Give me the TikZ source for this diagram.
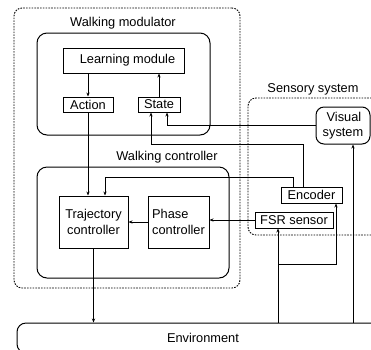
\documentclass[tikz,border=0pt]{standalone}
\usepackage{fontspec}
\setmainfont{Liberation Sans}
\usepackage{tikz}
\usetikzlibrary{arrows.meta}

\begin{document}
\begin{tikzpicture}[x=1pt, y=-1pt,
    font=\fontsize{12.8}{15.5}\selectfont,
    >={Stealth[length=4pt,width=3.2pt]},
    group/.style={draw=black, dash pattern=on 1.6pt off 1.2pt, line width=0.9pt, rounded corners=8pt, inner sep=0pt},
    frame/.style={draw=black, line width=1pt, rounded corners=10pt, inner sep=0pt},
    block/.style={draw=black, line width=1pt, inner sep=0pt, align=center},
    label/.style={inner sep=0pt},
    flow/.style={->, line width=0.7pt}]

	\useasboundingbox (0,0) rectangle (371,349);
	\clip (0,0) rectangle (371,349);

	% groups
	\node[group, minimum width=226pt, minimum height=280pt] (walk) at (127, 148) {};
	\node[group, minimum width=140pt, minimum height=137pt] (sense) at (318, 166.5) {};
	\node[label] (walkmod) at (123, 23) {Walking modulator};
	\node[label] (walkctrl) at (167, 157) {Walking controller};
	\node[label] (sensesys) at (313, 89) {Sensory system};

	% walking modulator
	\node[frame, minimum width=173pt, minimum height=102pt] (modbox) at (123.5, 84) {};
	\node[block, minimum width=121pt, minimum height=25pt] (learn) at (123.5, 60.5) {\hspace*{8pt}Learning module};
	\node[block, minimum width=50pt, minimum height=15pt] (action) at (88, 104.5) {Action};
	\node[block, minimum width=42pt, minimum height=15pt] (state) at (159, 104.5) {State};

	% walking controller
	\node[frame, minimum width=192pt, minimum height=111pt] (ctrlbox) at (133, 222.5) {};
	\node[block, minimum width=69pt, minimum height=52pt] (traj) at (93.5, 222) {Trajectory\\controller};
	\node[block, minimum width=61pt, minimum height=52pt, align=left] (phase) at (178.5, 222) {Phase\\controller};

	% sensory system
	\node[block, rounded corners=8pt, minimum width=54pt, minimum height=37pt] (visual) at (343, 125.5) {\hspace*{2pt}Visual\\system};
	\node[block, minimum width=61pt, minimum height=16pt] (encoder) at (311.5, 195) {Encoder};
	\node[block, minimum width=78pt, minimum height=16pt] (fsr) at (294, 220) {FSR sensor};

	% environment
	\node[frame, rounded corners=9pt, minimum width=372pt, minimum height=30pt] (env) at (203, 338) {Environment};

	% bends
	\coordinate (stbend) at ([xshift=-8pt]state.south |- 0,144);
	\coordinate (trbend) at ([xshift=11.5pt]traj.north |- 0,177);
	\coordinate (tap) at ([xshift=-16pt]fsr.south |- 0,264);

	% connectors
	\draw[flow] (learn.south -| action.north) -- (action.north);
	\draw[flow] (state.north) -- (state.north |- learn.south);
	\draw[flow] (visual.west) -| ([xshift=8pt]state.south);
	\draw[flow] ([xshift=-8.5pt]encoder.north) |- (stbend) -- ([xshift=-8pt]state.south);
	\draw[flow] ([xshift=-18.5pt]encoder.north) |- (trbend) -- ([xshift=11.5pt]traj.north);
	\draw[flow] (action.south) -- (action.south |- traj.north);
	\draw[flow] (fsr.west) -- (fsr.west -| phase.east);
	\draw[flow] (phase.west) -- (traj.east);
	\draw[flow] (traj.south) -- (traj.south |- env.north);
	\draw[flow] ([xshift=-16pt]fsr.south |- env.north) -- ([xshift=-16pt]fsr.south);
	\draw[flow] (tap) -| ([xshift=24.5pt]encoder.south);
	\draw[flow] ([xshift=10pt]visual.south |- env.north) -- ([xshift=10pt]visual.south);

\end{tikzpicture}
\end{document}
